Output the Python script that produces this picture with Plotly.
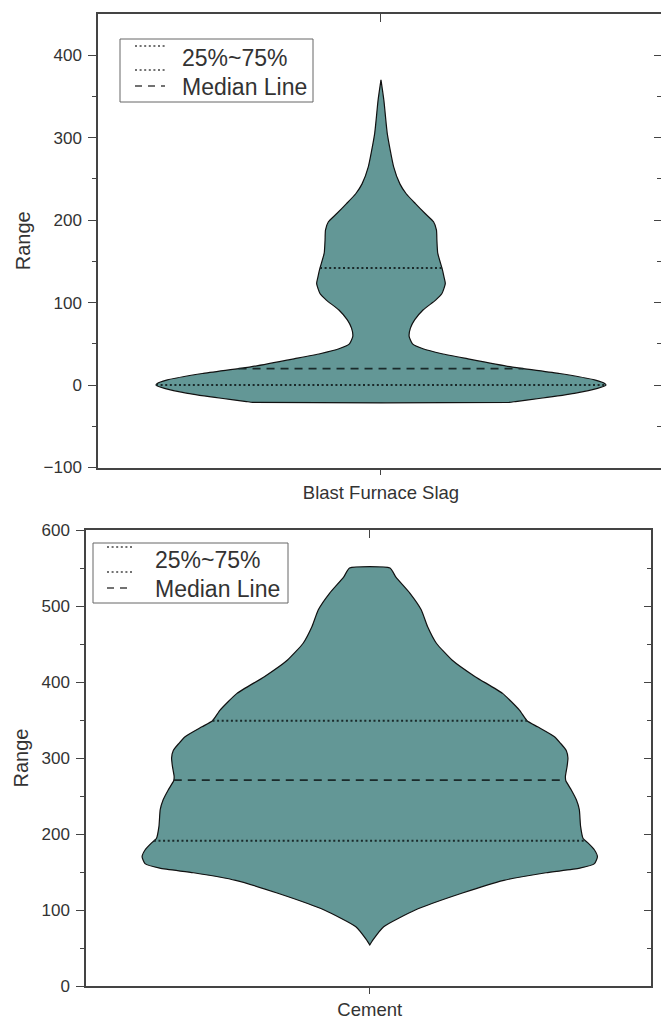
import numpy as np
import plotly.graph_objects as go

# ---------------- data ----------------
# Blast Furnace Slag violin: value levels and kernel-density half widths
slag_levels = [-21, -20, -16, -10, -4, 0, 2, 6, 14, 22, 32, 38, 44, 50, 59, 69, 79,
               91, 103, 111, 123, 131, 142, 160, 176, 188, 198, 208, 220, 232, 244,
               265, 305, 345, 370]
slag_density = [3.05, 3.20, 3.80, 4.60, 5.15, 5.35, 5.32, 5.10, 4.25, 3.10, 2.05, 1.45,
                1.00, 0.75, 0.67, 0.70, 0.80, 1.00, 1.30, 1.45, 1.53, 1.50, 1.45, 1.35,
                1.33, 1.32, 1.25, 1.05, 0.82, 0.60, 0.45, 0.30, 0.15, 0.07, 0.0]
slag_quartiles = [0, 142]      # 25% and 75%
slag_median = 20

# Cement violin
cement_levels = [54, 61, 78, 100, 122, 139, 149, 155, 161, 170, 179, 188, 194, 210, 232,
                 245, 258, 270, 276, 289, 300, 310, 319, 328, 341, 349, 363, 385, 407,
                 429, 451, 473, 495, 517, 538, 550]
cement_density = [0.0, 0.08, 0.33, 1.08, 2.18, 3.18, 4.18, 4.98, 5.33, 5.40, 5.33, 5.18,
                  5.06, 5.00, 4.97, 4.90, 4.78, 4.65, 4.64, 4.68, 4.70, 4.66, 4.53, 4.38,
                  3.98, 3.73, 3.55, 3.15, 2.50, 1.95, 1.58, 1.37, 1.22, 0.95, 0.62, 0.48]
cement_quartiles = [191, 349]
cement_median = 271

categories = ["Blast Furnace Slag", "Cement"]
legend_labels = ["25%~75%", "Median Line"]

# ---------------- styling ----------------
W, H = 661, 1019
FILL = "rgb(99,151,150)"
AX = "#444444"
TXT = "#333333"
FONT = "Liberation Sans, Arial, sans-serif"
QCOL = "#1a2a2a"


def fx(p):
    return p / W


def fy(p):
    return 1 - p / H


fig = go.Figure()


def add_violin(levels, dens, quartiles, median, xa, ya, xa_over, ya_over):
    lv = np.asarray(levels, float)
    d = np.asarray(dens, float)
    xs = np.concatenate([d, -d[::-1], d[:1]])
    ys = np.concatenate([lv, lv[::-1], lv[:1]])
    fig.add_trace(go.Scatter(x=xs, y=ys, fill="toself", fillcolor=FILL, mode="lines",
                             line=dict(color="#111111", width=1.2, shape="spline", smoothing=0.5),
                             xaxis=xa, yaxis=ya, hoverinfo="skip", showlegend=False))
    for q in quartiles:
        w = float(np.interp(q, lv, d))
        fig.add_trace(go.Scatter(x=[-w, w], y=[q, q], mode="lines",
                                 line=dict(color=QCOL, width=2, dash="2px,2.6px"),
                                 xaxis=xa, yaxis=ya, hoverinfo="skip", showlegend=False))
    w = float(np.interp(median, lv, d))
    fig.add_trace(go.Scatter(x=[-w, w], y=[median, median], mode="lines",
                             line=dict(color=QCOL, width=1.7, dash="8px,6px"),
                             xaxis=xa, yaxis=ya, hoverinfo="skip", showlegend=False))
    # invisible companion trace so the mirrored (top / right) frame axes get drawn
    fig.add_trace(go.Scatter(x=[0], y=[median], mode="markers", marker=dict(opacity=0),
                             xaxis=xa_over, yaxis=ya_over, hoverinfo="skip", showlegend=False))


add_violin(slag_levels, slag_density, slag_quartiles, slag_median, "x", "y", "x3", "y3")
add_violin(cement_levels, cement_density, cement_quartiles, cement_median, "x2", "y2", "x4", "y4")

base = dict(showline=True, linecolor=AX, linewidth=1.5, showgrid=False, zeroline=False,
            automargin=False, tickcolor=AX, tickwidth=1.3,
            tickfont=dict(family=FONT, size=17, color=TXT))

top_dom = [fy(467.5), fy(14)]
bot_dom = [fy(986), fy(530)]
top_x = [98 / W, 1.0]
bot_x = [86 / W, 651 / W]
top_xr = [-6.73, 6.66]
bot_xr = [-6.73, 6.67]
top_yr = [-100, 450]
bot_yr = [0, 600]
top_major = [-100, 0, 100, 200, 300, 400]
top_minor = [-50, 50, 150, 250, 350]
bot_major = [0, 100, 200, 300, 400, 500, 600]
bot_minor = [50, 150, 250, 350, 450, 550]


def xbottom(dom, rng, label, anchor, standoff):
    d = dict(base)
    d.update(domain=dom, range=rng, anchor=anchor, tickvals=[0], ticktext=[label],
             ticks="outside", ticklen=6, ticklabelstandoff=standoff,
             tickfont=dict(family=FONT, size=18.5, color=TXT))
    return d


def xtop(dom, rng, over, anchor):
    d = dict(base)
    d.update(domain=dom, range=rng, overlaying=over, side="top", anchor=anchor,
             tickvals=[0], ticks="inside", ticklen=8, showticklabels=False)
    return d


def yleft(dom, rng, major, minor, anchor, standoff):
    d = dict(base)
    d.update(domain=dom, range=rng, anchor=anchor, tickvals=major, ticks="outside",
             ticklen=8, ticklabelstandoff=3,
             minor=dict(tickvals=minor, ticks="outside", ticklen=4, tickcolor=AX, showgrid=False),
             title=dict(text="Range", font=dict(family=FONT, size=20, color=TXT), standoff=standoff))
    return d


def yright(dom, rng, major, minor, over, anchor):
    d = dict(base)
    d.update(domain=dom, range=rng, overlaying=over, side="right", anchor=anchor,
             tickvals=major, ticks="inside", ticklen=7, showticklabels=False,
             minor=dict(tickvals=minor, ticks="inside", ticklen=4, tickcolor=AX, showgrid=False))
    return d


fig.update_layout(
    width=W, height=H, margin=dict(l=0, r=0, t=0, b=0),
    paper_bgcolor="white", plot_bgcolor="white", showlegend=False,
    font=dict(family=FONT, color=TXT),
    xaxis=xbottom(top_x, top_xr, categories[0], "y", 2),
    yaxis=yleft(top_dom, top_yr, top_major, top_minor, "x", 8),
    xaxis2=xbottom(bot_x, bot_xr, categories[1], "y2", 0),
    yaxis2=yleft(bot_dom, bot_yr, bot_major, bot_minor, "x2", 7),
    xaxis3=xtop(top_x, top_xr, "x", "y"),
    yaxis3=yright(top_dom, top_yr, top_major, top_minor, "y", "x"),
    xaxis4=xtop(bot_x, bot_xr, "x2", "y2"),
    yaxis4=yright(bot_dom, bot_yr, bot_major, bot_minor, "y2", "x2"),
)

# ---------------- hand-drawn legends (Origin style) ----------------
shapes = []
annotations = []


def legend(box, sample_x, dot_ys, dash_y, text_x, text_ys):
    x0, y0, x1, y1 = box
    shapes.append(dict(type="rect", xref="paper", yref="paper", x0=fx(x0), x1=fx(x1),
                       y0=fy(y1), y1=fy(y0), line=dict(color="#666666", width=1),
                       fillcolor="white", layer="above"))
    for yy in dot_ys:
        shapes.append(dict(type="line", xref="paper", yref="paper", x0=fx(sample_x[0]),
                           x1=fx(sample_x[1]), y0=fy(yy), y1=fy(yy),
                           line=dict(color="#444444", width=1.5, dash="2px,2.6px")))
    shapes.append(dict(type="line", xref="paper", yref="paper", x0=fx(sample_x[0]),
                       x1=fx(sample_x[1]), y0=fy(dash_y), y1=fy(dash_y),
                       line=dict(color="#444444", width=1.5, dash="7px,6px")))
    for lbl, ty in zip(legend_labels, text_ys):
        annotations.append(dict(text=lbl, xref="paper", yref="paper", x=fx(text_x), y=fy(ty),
                                xanchor="left", yanchor="middle", showarrow=False,
                                font=dict(family=FONT, size=23, color=TXT)))


legend((120, 39, 313, 102), (135, 165), (46, 70), 86, 180, (58, 87))
legend((93, 543, 288, 603), (107, 133), (547, 572), 588, 153, (560, 589))

fig.update_layout(shapes=shapes, annotations=annotations)

fig.write_html("out.html")
